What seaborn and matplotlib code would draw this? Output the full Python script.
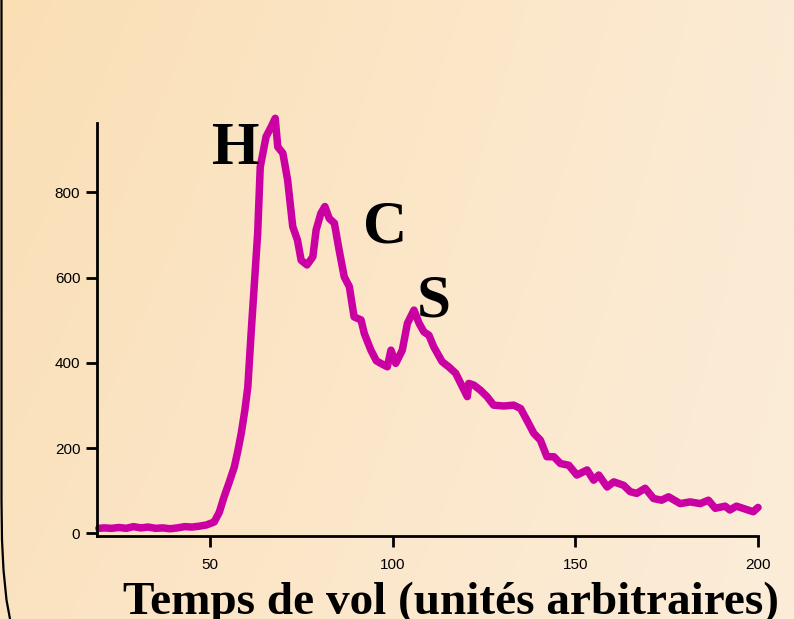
import numpy as np
import matplotlib
matplotlib.use("Agg")
import matplotlib.pyplot as plt
import seaborn as sns
from matplotlib.lines import Line2D

# ---- data ----
flight_time = [19.5, 21, 23, 25, 27, 29, 31, 33, 35, 37, 39, 41, 43, 45, 47, 49, 50.5,
               51.1, 52.5, 53.8, 55.2, 56.6, 57.6, 58.5, 59.5, 60.3, 61.2, 62.1, 63.0, 63.7,
               65.3, 66.7, 67.8, 68.5, 69.9, 71.2, 72.6, 73.9, 74.9, 76.5, 78.1, 79.0, 80.3,
               81.4, 82.6, 84.0, 85.3, 86.7, 88.1, 89.4, 91.3, 92.2, 94.0, 95.5, 96.7, 98.5,
               99.5, 100.8, 102.6, 104.0, 105.8, 107.2, 108.5, 109.9, 111.2, 113.5, 115.3,
               117.2, 118.6, 120.4, 120.8, 122.2, 124.0, 125.8, 127.6, 130.4, 133.1, 135.0,
               136.7, 138.6, 140.4, 142.2, 144.1, 145.9, 148.2, 150.4, 153.2, 155.0, 156.4,
               158.7, 160.5, 163.2, 165.0, 166.8, 169.1, 171.4, 173.6, 175.5, 178.7, 181.4,
               184.2, 186.4, 188.3, 191.0, 192.3, 194.1, 196.9, 198.7, 200.0]
counts = [12, 13, 12, 14, 12, 16, 13, 15, 12, 13, 11, 13, 16, 15, 17, 20, 25,
          27, 50, 86, 120, 156, 195, 235, 290, 344, 470, 587, 705, 860,
          931, 954, 974, 907, 892, 829, 720, 688, 641, 630, 649, 712, 751,
          767, 739, 728, 665, 602, 579, 508, 501, 469, 430, 405, 399, 391,
          430, 399, 430, 493, 524, 493, 473, 465, 438, 403, 391,
          376, 352, 321, 352, 348, 336, 321, 301, 299, 301, 293,
          266, 235, 219, 180, 180, 164, 160, 137, 149, 125, 137,
          109, 121, 113, 98, 94, 106, 82, 78, 86, 70, 74,
          70, 78, 59, 64, 55, 64, 56, 51, 61]

x_ticks = [50, 100, 150, 200]
y_ticks = [0, 200, 400, 600, 800]
peak_labels = ["H", "C", "S"]
peak_x = [57.1, 97.8, 111.2]
peak_y = [902, 717, 545]
x_label = "Temps de vol (unités arbitraires)"

W, H = 794, 619
sns.set_style("ticks")
plt.rcParams['font.family'] = ['Liberation Sans', 'DejaVu Sans']

fig = plt.figure(figsize=(W / 100, H / 100), dpi=100)

# background gradient
bg = fig.add_axes([0, 0, 1, 1], zorder=-10)
tl = np.array([250, 223, 181]) / 255
tr = np.array([252, 235, 212]) / 255
bl = np.array([251, 227, 193]) / 255
br = np.array([252, 237, 217]) / 255
u = np.linspace(0, 1, 200)[None, :, None]
v = np.linspace(0, 1, 200)[:, None, None]
grad = (1 - v) * ((1 - u) * tl + u * tr) + v * ((1 - u) * bl + u * br)
bg.imshow(grad, aspect='auto', extent=[0, 1, 0, 1], origin='upper')
bg.set_xlim(0, 1); bg.set_ylim(0, 1)
bg.axis('off')

# left rounded border
bx = [1.5, 1.5, 2.0, 3.5, 6.5, 10.0]
by = [0, 500, 540, 570, 600, 619]
fig.add_artist(Line2D([p / W for p in bx], [1 - p / H for p in by],
                      transform=fig.transFigure, color='black', lw=1.6))

ax = fig.add_axes([97 / W, 1 - 536 / H, (758 - 97) / W, (536 - 123) / H])
ax.set_facecolor('none')
sns.lineplot(x=flight_time, y=counts, ax=ax, color='#CA00A2', lw=5.4,
             solid_joinstyle='round', solid_capstyle='round')
for ln in ax.get_lines():
    ln.set_clip_on(False)
ax.set_xlim(19, 200)
ax.set_ylim(-6, 963)
ax.set_xticks(x_ticks)
ax.set_yticks(y_ticks)
ax.set_xticklabels([str(t) for t in x_ticks])
ax.set_yticklabels([str(t) for t in y_ticks])
for s in ['top', 'right']:
    ax.spines[s].set_visible(False)
for s in ['left', 'bottom']:
    ax.spines[s].set_linewidth(2.0)
    ax.spines[s].set_color('black')
ax.tick_params(axis='x', length=8, width=2, pad=8, labelsize=11, colors='black')
ax.tick_params(axis='y', length=8, width=2, pad=4, labelsize=11, colors='black')
ax.set_xlabel('')
ax.set_ylabel('')

for lab, px, py in zip(peak_labels, peak_x, peak_y):
    ax.text(px, py, lab, ha='center', va='center', fontsize=44, fontweight='bold',
            family=['Liberation Serif', 'DejaVu Serif'], color='black', clip_on=False)

fig.text(451 / W, 1 - 614 / H, x_label, ha='center', va='baseline', fontsize=34,
         fontweight='bold', family=['Liberation Serif', 'DejaVu Serif'], color='black')

fig.savefig('out.png', dpi=100)
